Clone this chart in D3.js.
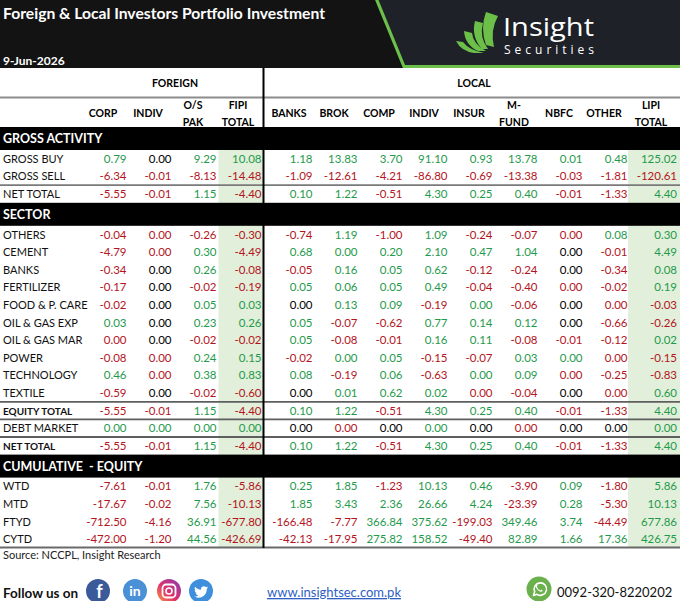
<!DOCTYPE html>
<html><head><meta charset="utf-8">
<script src="https://cdn.jsdelivr.net/npm/d3@7"></script>
<style>body{margin:0;background:#fff;} svg{display:block;font-family:Lato,"Open Sans",sans-serif;}</style>
</head><body><svg id="c" width="680" height="601"></svg>
<script>
const title = "Foreign & Local Investors Portfolio Investment";
const dateLabel = "9-Jun-2026";
const groupLabels = ["FOREIGN", "LOCAL"];
const foreignCols = ["CORP", "INDIV", "O/S PAK", "FIPI TOTAL"];
const localCols = ["BANKS", "BROK", "COMP", "INDIV", "INSUR", "M-FUND", "NBFC", "OTHER", "LIPI TOTAL"];

// "-0.00" = red zero, "+0.00" = green zero, "0.00" = black zero
const grossLabels = ["GROSS BUY", "GROSS SELL", "NET TOTAL"];
const grossForeign = [
  ["0.79", "0.00", "9.29", "10.08"],
  ["-6.34", "-0.01", "-8.13", "-14.48"],
  ["-5.55", "-0.01", "1.15", "-4.40"]];
const grossLocal = [
  ["1.18", "13.83", "3.70", "91.10", "0.93", "13.78", "0.01", "0.48", "125.02"],
  ["-1.09", "-12.61", "-4.21", "-86.80", "-0.69", "-13.38", "-0.03", "-1.81", "-120.61"],
  ["0.10", "1.22", "-0.51", "4.30", "0.25", "0.40", "-0.01", "-1.33", "4.40"]];

const sectorLabels = ["OTHERS", "CEMENT", "BANKS", "FERTILIZER", "FOOD & P. CARE", "OIL & GAS EXP", "OIL & GAS MAR", "POWER", "TECHNOLOGY", "TEXTILE"];
const sectorForeign = [
  ["-0.04", "-0.00", "-0.26", "-0.30"],
  ["-4.79", "-0.00", "0.30", "-4.49"],
  ["-0.34", "0.00", "0.26", "-0.08"],
  ["-0.17", "0.00", "-0.02", "-0.19"],
  ["-0.02", "0.00", "0.05", "0.03"],
  ["0.03", "0.00", "0.23", "0.26"],
  ["-0.00", "0.00", "-0.02", "-0.02"],
  ["-0.08", "-0.00", "0.24", "0.15"],
  ["0.46", "-0.00", "0.38", "0.83"],
  ["-0.59", "0.00", "-0.02", "-0.60"]];
const sectorLocal = [
  ["-0.74", "1.19", "-1.00", "1.09", "-0.24", "-0.07", "-0.00", "0.08", "0.30"],
  ["0.68", "+0.00", "0.20", "2.10", "0.47", "1.04", "0.00", "-0.01", "4.49"],
  ["-0.05", "0.16", "0.05", "0.62", "-0.12", "-0.24", "0.00", "-0.34", "0.08"],
  ["0.05", "0.06", "0.05", "0.49", "-0.04", "-0.40", "-0.00", "-0.02", "0.19"],
  ["0.00", "0.13", "0.09", "-0.19", "+0.00", "-0.06", "0.00", "-0.00", "-0.03"],
  ["0.05", "-0.07", "-0.62", "0.77", "0.14", "0.12", "0.00", "-0.66", "-0.26"],
  ["0.05", "-0.08", "-0.01", "0.16", "0.11", "-0.08", "-0.01", "-0.12", "0.02"],
  ["-0.02", "+0.00", "0.05", "-0.15", "-0.07", "0.03", "+0.00", "-0.00", "-0.15"],
  ["0.08", "-0.19", "0.06", "-0.63", "+0.00", "0.09", "-0.00", "-0.25", "-0.83"],
  ["0.00", "0.01", "0.62", "0.02", "-0.00", "-0.04", "0.00", "-0.00", "0.60"]];

const totalLabels = ["EQUITY TOTAL", "DEBT MARKET", "NET TOTAL"];
const totalForeign = [
  ["-5.55", "-0.01", "1.15", "-4.40"],
  ["+0.00", "+0.00", "+0.00", "+0.00"],
  ["-5.55", "-0.01", "1.15", "-4.40"]];
const totalLocal = [
  ["0.10", "1.22", "-0.51", "4.30", "0.25", "0.40", "-0.01", "-1.33", "4.40"],
  ["0.00", "-0.00", "0.00", "+0.00", "0.00", "-0.00", "0.00", "0.00", "+0.00"],
  ["0.10", "1.22", "-0.51", "4.30", "0.25", "0.40", "-0.01", "-1.33", "4.40"]];

const cumLabels = ["WTD", "MTD", "FTYD", "CYTD"];
const cumForeign = [
  ["-7.61", "-0.01", "1.76", "-5.86"],
  ["-17.67", "-0.02", "7.56", "-10.13"],
  ["-712.50", "-4.16", "36.91", "-677.80"],
  ["-472.00", "-1.20", "44.56", "-426.69"]];
const cumLocal = [
  ["0.25", "1.85", "-1.23", "10.13", "0.46", "-3.90", "0.09", "-1.80", "5.86"],
  ["1.85", "3.43", "2.36", "26.66", "4.24", "-23.39", "0.28", "-5.30", "10.13"],
  ["-166.48", "-7.77", "366.84", "375.62", "-199.03", "349.46", "3.74", "-44.49", "677.86"],
  ["-42.13", "-17.95", "275.82", "158.52", "-49.40", "82.89", "1.66", "17.36", "426.75"]];

const boldRows = ["EQUITY TOTAL", "NET TOTAL#2"];
const sourceText = "Source: NCCPL, Insight Research";
const website = "www.insightsec.com.pk";
const phone = "0092-320-8220202";

// ---------- drawing ----------
const W = 680, H = 601;
const GREEN = "#1f9a4c", RED = "#b3141d", BLACK = "#000", SHADE = "#e2efda";
const svg = d3.select("#c");

// header
svg.append("rect").attr("width", W).attr("height", 68).attr("fill", "#131313");
svg.append("path").attr("d", "M376,0 L680,0 L680,68 L404,68 Z").attr("fill", "#1e2128");
svg.append("path").attr("d", "M376,-2 L404,66.5 L680,66.5").attr("fill", "none").attr("stroke", "#6cc04a").attr("stroke-width", 3.2);
svg.append("text").attr("x", 3).attr("y", 19).attr("fill", "#fff").attr("font-weight", 700).attr("font-size", 15)
  .attr("textLength", 322).attr("lengthAdjust", "spacingAndGlyphs").text(title);
svg.append("text").attr("x", 3).attr("y", 65).attr("fill", "#fff").attr("font-weight", 700).attr("font-size", 12).text(dateLabel);
// logo
const logo = svg.append("g").attr("transform", "translate(455,10)").attr("fill", "#6cc04a");
[
  "M31,2 L43,6 Q35,20 39,37 L31,35 Q25,18 31,2 Z",
  "M20,11 L28,13 Q24,27 33,39 L27,39 Q16,27 20,11 Z",
  "M9,21 L17,23 Q18,34 31,41 L23,41 Q10,35 9,21 Z",
  "M1,31 L8,32 Q14,40 29,43 L19,43 Q6,41 1,31 Z"
].forEach(d => logo.append("path").attr("d", d));
svg.append("text").attr("x", 503).attr("y", 36).attr("fill", "#fff").attr("font-family", "'Open Sans'").attr("font-size", 25)
  .attr("textLength", 91).attr("lengthAdjust", "spacingAndGlyphs").text("Insight");
svg.append("text").attr("x", 504).attr("y", 54).attr("fill", "#fff").attr("font-family", "'Open Sans'").attr("font-size", 12)
  .attr("textLength", 90).attr("lengthAdjust", "spacing").text("Securities");

// scales
const fx = d3.scaleBand().domain(foreignCols).range([82, 262]);
const lx = d3.scaleBand().domain(localCols).range([268, 673]);
const totalExtra = 4;
const rightOf = (scale, c, isTotal) => scale(c) + scale.bandwidth() - 0.5 + (isTotal && scale === lx ? totalExtra + 0.5 : 0);

// section layout
const BAND = 23, ROW = 17.6;
const sections = [
  {title: "GROSS ACTIVITY", labels: grossLabels, foreign: grossForeign, local: grossLocal},
  {title: "SECTOR", labels: sectorLabels.concat(totalLabels), foreign: sectorForeign.concat(totalForeign), local: sectorLocal.concat(totalLocal)},
  {title: "CUMULATIVE  - EQUITY", labels: cumLabels, foreign: cumForeign, local: cumLocal}
];
let yCur = 127;
sections.forEach(s => {
  s.bandY = yCur; yCur += BAND;
  s.y = d3.scaleBand().domain(d3.range(s.labels.length)).range([yCur, yCur + ROW * s.labels.length]);
  yCur += ROW * s.labels.length;
});
const tableBottom = yCur;

// shading columns
svg.append("rect").attr("x", fx("FIPI TOTAL") + 1.5).attr("y", 150).attr("width", fx.bandwidth()).attr("height", tableBottom - 150).attr("fill", SHADE);
svg.append("rect").attr("x", lx("LIPI TOTAL")).attr("y", 150).attr("width", W - lx("LIPI TOTAL")).attr("height", tableBottom - 150).attr("fill", SHADE);

// group header
svg.append("text").attr("x", 175).attr("y", 87).attr("text-anchor", "middle").attr("font-weight", 700).attr("font-size", 10.5).text(groupLabels[0]);
svg.append("text").attr("x", 474).attr("y", 87).attr("text-anchor", "middle").attr("font-weight", 700).attr("font-size", 10.5).text(groupLabels[1]);

// column headers
function colHeader(scale, cols) {
  cols.forEach(c => {
    const parts = c.includes(" ") ? c.split(" ") : (c === "M-FUND" ? ["M-", "FUND"] : [c]);
    const cx = scale(c) + scale.bandwidth() / 2 + (c === "LIPI TOTAL" ? 0.5 : -1.5);
    const t = svg.append("text").attr("text-anchor", "middle").attr("font-weight", 700).attr("font-size", 10.5);
    if (parts.length === 1) t.attr("x", cx).attr("y", 117).text(parts[0]);
    else parts.forEach((p, i) => t.append("tspan").attr("x", cx).attr("y", 109 + i * 17).text(p));
  });
}
colHeader(fx, foreignCols);
colHeader(lx, localCols);

// tone
const tone = v => v.startsWith("-") ? RED : (v.startsWith("+") || +v > 0) ? GREEN : BLACK;
const show = v => v.replace(/^\+/, "").replace(/^-0\.00$/, "0.00");

let netCount = 0;
sections.forEach(s => {
  svg.append("rect").attr("x", 0).attr("y", s.bandY).attr("width", W).attr("height", BAND).attr("fill", "#000");
  svg.append("text").attr("x", 3).attr("y", s.bandY + BAND / 2 + 4.5).attr("fill", "#fff").attr("font-weight", 700).attr("font-size", 12.5)
    .attr("xml:space", "preserve").style("white-space", "pre").text(s.title);
  s.labels.forEach((lab, i) => {
    const cy = s.y(i) + ROW / 2 + 4;
    let key = lab;
    if (lab === "NET TOTAL") { netCount++; if (netCount === 2) key = "NET TOTAL#2"; }
    const bold = boldRows.includes(key);
    svg.append("text").attr("x", 3).attr("y", cy).attr("font-size", bold ? 10 : 11).attr("font-weight", bold ? 700 : 400)
      .attr("fill", "#111").text(lab);
    svg.selectAll(null).data(s.foreign[i]).join("text")
      .attr("x", (d, j) => rightOf(fx, foreignCols[j], j === foreignCols.length - 1))
      .attr("y", cy).attr("text-anchor", "end").attr("font-size", 11.5).attr("fill", d => tone(d)).text(d => show(d));
    svg.selectAll(null).data(s.local[i]).join("text")
      .attr("x", (d, j) => rightOf(lx, localCols[j], j === localCols.length - 1))
      .attr("y", cy).attr("text-anchor", "end").attr("font-size", 11.5).attr("fill", d => tone(d)).text(d => show(d));
  });
});

// rules
const hline = (y, col, w) => svg.append("line").attr("x1", 0).attr("x2", W).attr("y1", y).attr("y2", y).attr("stroke", col).attr("stroke-width", w);
hline(97.5, "#8c8c8c", 2);
const g0 = sections[0], g1 = sections[1];
hline(g0.y(2), "#7a7a7a", 1.8);
hline(g1.y(10), "#5e5e5e", 1.8);
hline(g1.y(11), "#5e5e5e", 1.8);
hline(g1.y(12), "#5e5e5e", 1.8);
hline(tableBottom - 0.5, "#6a6a6a", 1.8);
svg.append("line").attr("x1", 263.5).attr("x2", 263.5).attr("y1", 68).attr("y2", tableBottom).attr("stroke", "#000").attr("stroke-width", 2);

// source & footer
svg.append("text").attr("x", 3).attr("y", tableBottom + 11).attr("font-size", 11).attr("fill", "#222").text(sourceText);
svg.append("text").attr("x", 3).attr("y", 598).attr("font-size", 13.5).attr("font-weight", 700).attr("fill", "#111").text("Follow us on");
const fy = 591;
// facebook
svg.append("circle").attr("cx", 98).attr("cy", fy).attr("r", 12).attr("fill", "#3b5a9a");
svg.append("text").attr("x", 99.5).attr("y", fy + 7).attr("text-anchor", "middle").attr("font-size", 18).attr("font-weight", 700).attr("fill", "#fff").text("f");
// linkedin
svg.append("circle").attr("cx", 135).attr("cy", fy).attr("r", 12).attr("fill", "#4a90d6");
svg.append("text").attr("x", 135).attr("y", fy + 5).attr("text-anchor", "middle").attr("font-size", 14).attr("font-weight", 700).attr("fill", "#fff").text("in");
// instagram
const ig = svg.append("defs").append("linearGradient").attr("id", "ig").attr("x1", "0").attr("y1", "1").attr("x2", "1").attr("y2", "0");
ig.append("stop").attr("offset", "0").attr("stop-color", "#f9a03f");
ig.append("stop").attr("offset", "0.45").attr("stop-color", "#e1306c");
ig.append("stop").attr("offset", "1").attr("stop-color", "#833ab4");
svg.append("circle").attr("cx", 169).attr("cy", fy).attr("r", 12).attr("fill", "url(#ig)");
svg.append("rect").attr("x", 162.5).attr("y", fy - 6.5).attr("width", 13).attr("height", 13).attr("rx", 3.5).attr("fill", "none").attr("stroke", "#fff").attr("stroke-width", 1.8);
svg.append("circle").attr("cx", 169).attr("cy", fy).attr("r", 3).attr("fill", "none").attr("stroke", "#fff").attr("stroke-width", 1.6);
// twitter
svg.append("circle").attr("cx", 201).attr("cy", fy).attr("r", 12).attr("fill", "#3f8fdc");
svg.append("path").attr("transform", `translate(${201 - 7.5},${fy - 6.5}) scale(0.62)`).attr("fill", "#fff")
  .attr("d", "M23.643 4.937c-.835.37-1.732.62-2.675.733.962-.576 1.7-1.49 2.048-2.578-.9.534-1.897.922-2.958 1.13-.85-.904-2.06-1.47-3.4-1.47-2.572 0-4.658 2.086-4.658 4.66 0 .364.042.718.12 1.06-3.873-.195-7.304-2.05-9.602-4.868-.4.69-.63 1.49-.63 2.342 0 1.616.823 3.043 2.072 3.878-.764-.025-1.482-.234-2.11-.583v.06c0 2.257 1.605 4.14 3.737 4.568-.392.106-.803.162-1.227.162-.3 0-.593-.028-.877-.082.593 1.85 2.313 3.198 4.352 3.234-1.595 1.25-3.604 1.995-5.786 1.995-.376 0-.747-.022-1.112-.065 2.062 1.323 4.51 2.093 7.14 2.093 8.57 0 13.255-7.098 13.255-13.254 0-.2-.005-.402-.014-.602.91-.658 1.7-1.477 2.323-2.41z");
// website
svg.append("text").attr("x", 267).attr("y", 597).attr("font-size", 13).attr("fill", "#2f5fc4").attr("text-decoration", "underline").text(website);
// whatsapp
svg.append("circle").attr("cx", 539).attr("cy", 589).attr("r", 12.5).attr("fill", "#6ab04c");
svg.append("path").attr("d", "M533.5,595.5 L534.7,591.6 A6.2,6.2 0 1 1 537,594.3 Z").attr("fill", "none").attr("stroke", "#fff").attr("stroke-width", 1.6).attr("stroke-linejoin", "round");
svg.append("path").attr("d", "M536.8,586 q0.4,3 3.4,4.6 l1.2,-1 l1.4,0.9 q-0.6,1.6 -2,1.3 q-4,-1.2 -5.2,-5.2 q0,-1.3 1.3,-1.8 l0.9,1.3 z").attr("fill", "#fff");
svg.append("text").attr("x", 557).attr("y", 597).attr("font-size", 13).attr("fill", "#111").text(phone);
</script></body></html>
